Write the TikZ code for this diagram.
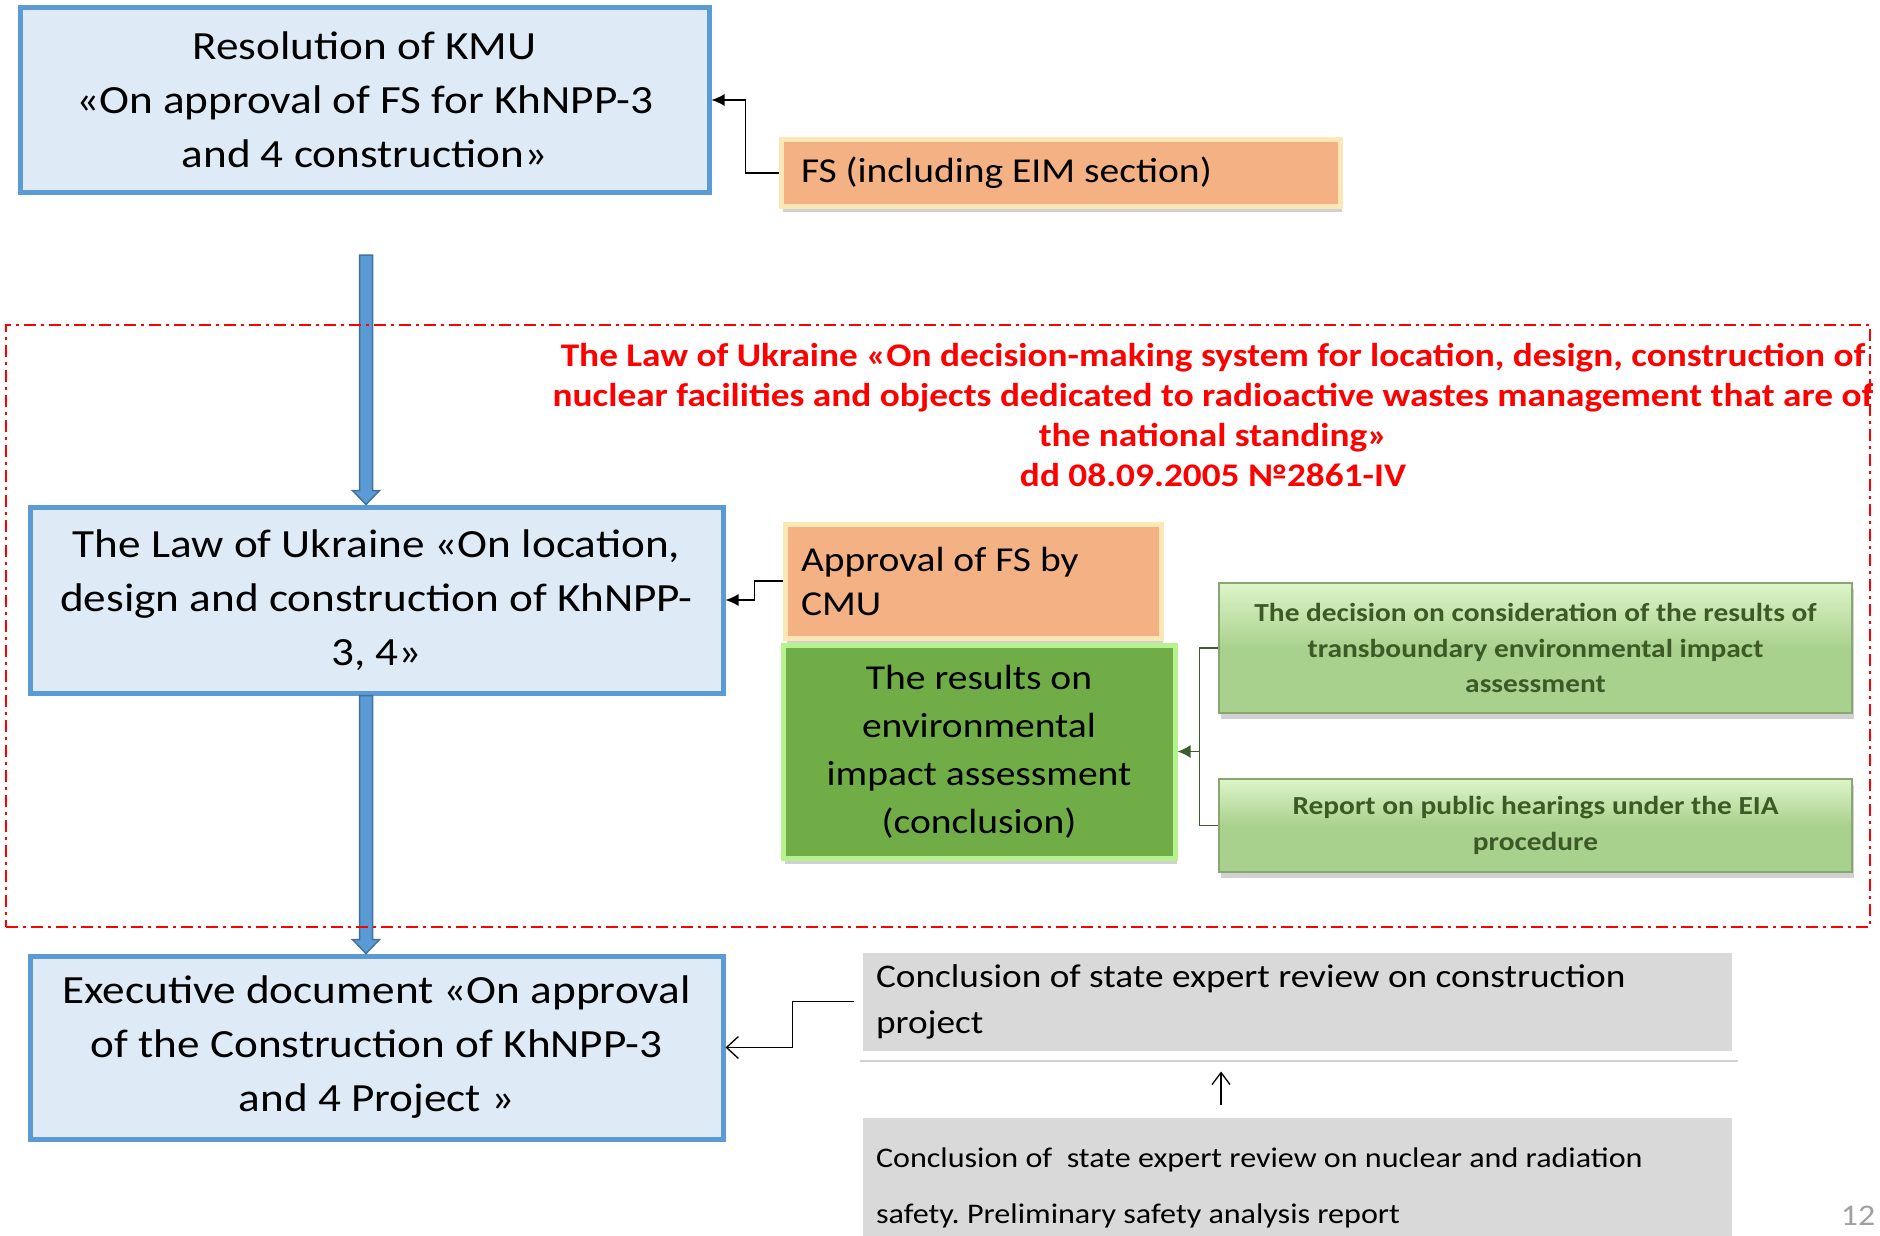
\documentclass[tikz,border=0pt]{standalone}
\usepackage{fontspec}
\setmainfont{Carlito}[FakeStretch=1.13]
\usetikzlibrary{calc,arrows.meta,shadows}
\frenchspacing
\definecolor{boxblue}{HTML}{DEEBF7}
\definecolor{edgeblue}{HTML}{5B9BD5}
\definecolor{darkblue}{HTML}{41719C}
\definecolor{orangefill}{HTML}{F4B183}
\definecolor{orangerim}{HTML}{FCE8B4}
\definecolor{greenfill}{HTML}{70AD47}
\definecolor{greenrim}{HTML}{B6F28E}
\definecolor{greentext}{HTML}{3B5A26}
\definecolor{greenline}{HTML}{3B5E2B}
\definecolor{lightgreen}{HTML}{A9D18E}
\definecolor{palegreen}{HTML}{DDF5C8}
\definecolor{grayfill}{HTML}{D9D9D9}
\definecolor{lawred}{HTML}{FF0000}
\definecolor{pagegray}{HTML}{A0A0A0}
\newcommand\blkarrow[2]{%
  \draw[bluearrow] ($(#1)+(-6.5,0)$) -- ($(#2)+(-6.5,-14)$) -- ($(#2)+(-13.5,-14)$) -- (#2)
    -- ($(#2)+(13.5,-14)$) -- ($(#2)+(6.5,-14)$) -- ($(#1)+(6.5,0)$) -- cycle;}
\begin{document}
\begin{tikzpicture}[x=1pt,y=-1pt,
  mainbox/.style={draw=edgeblue, line width=5pt, fill=boxblue, align=center, inner sep=0pt,
    font=\fontsize{40}{54}\selectfont},
  orangebox/.style={draw=orangerim, line width=5pt, fill=orangefill, align=flush left, inner ysep=0pt,
    drop shadow={shadow xshift=2pt, shadow yshift=-6pt, opacity=0.3, fill=black!60}},
  resbox/.style={draw=greenrim, line width=5pt, fill=greenfill, align=center, inner sep=0pt,
    font=\fontsize{35}{48}\selectfont,
    drop shadow={shadow xshift=2pt, shadow yshift=-6pt, opacity=0.3, fill=black!60}},
  bevelbox/.style={draw=lightgreen!80!black, line width=2.5pt, top color=palegreen, bottom color=lightgreen,
    middle color=lightgreen, align=center, inner sep=0pt, text=greentext,
    font=\fontsize{26}{35.5}\selectfont\bfseries,
    drop shadow={shadow xshift=2pt, shadow yshift=-6pt, opacity=0.3, fill=black!60}},
  graybox/.style={draw=white, line width=9pt, fill=grayfill, align=flush left, inner ysep=0pt,
    drop shadow={shadow xshift=2pt, shadow yshift=-7pt, opacity=0.3, fill=black!60}},
  bluearrow/.style={fill=edgeblue, draw=darkblue, line width=1.5pt},
  redframe/.style={draw=lawred, line width=2.5pt, dash pattern=on 12pt off 5pt on 3pt off 5pt, inner sep=0pt},
  lawtext/.style={text=lawred, align=center, font=\fontsize{33}{40}\selectfont\bfseries},
  conn/.style={draw=black, line width=1.3pt},
  gconn/.style={draw=greenline, line width=1.5pt},
  pagenum/.style={text=pagegray, font=\fontsize{30}{34}\selectfont}
]
\useasboundingbox (0,0) rectangle (1880,1236);
\clip (0,0) rectangle (1880,1236);

% main blue boxes
\node[mainbox, minimum width=689pt, minimum height=184pt] (b1) at (364.5,100)
  {Resolution of KMU\\«On approval of FS for KhNPP-3\\and 4 construction»};
\node[mainbox, minimum width=693pt, minimum height=186pt] (b2) at (376.5,600)
  {The Law of Ukraine «On location,\\design and construction of KhNPP-\\3, 4»};
\node[mainbox, minimum width=693pt, minimum height=183pt] (b3) at (376.5,1047.5)
  {Executive document «On approval\\of the Construction of KhNPP-3\\and 4 Project »};

% orange boxes
\node[orangebox, minimum height=66pt, text width=519pt, inner xsep=20pt,
  font=\fontsize{35}{44}\selectfont] (fs) at (1060.5,173) {FS (including EIM section)};
\node[orangebox, minimum height=114pt, text width=344pt, inner xsep=16pt,
  font=\fontsize{35}{44}\selectfont] (ap) at (973,581) {Approval of FS by\\CMU};

% green boxes
\node[resbox, minimum width=392pt, minimum height=213pt] (res) at (979,751.5)
  {The results on\\environmental\\impact assessment\\(conclusion)};
\node[bevelbox, minimum width=633pt, minimum height=130pt] (ga) at (1535.5,648)
  {The decision on consideration of the results of\\transboundary environmental impact\\assessment};
\node[bevelbox, minimum width=633pt, minimum height=93pt] (gb) at (1535.5,825.5)
  {Report on public hearings under the EIA\\procedure};

% gray boxes
\node[graybox, minimum height=107pt, text width=842pt, inner xsep=18pt,
  font=\fontsize{33}{46}\selectfont] (g1) at (1297,1001.5)
  {Conclusion of state expert review on construction\\project};
\node[graybox, minimum height=150pt, text width=842pt, inner xsep=18pt,
  font=\fontsize{28.4}{56}\selectfont] (g2) at (1297,1188)
  {Conclusion of \ state expert review on nuclear and radiation\\safety. Preliminary safety analysis report};

% blue block arrows
\coordinate (a1s) at (366,255);
\coordinate (a1e) at (a1s |- b2.north);
\coordinate (a2s) at (a1s |- b2.south);
\coordinate (a2e) at (a1s |- b3.north);
\blkarrow{a1s}{a1e}
\blkarrow{a2s}{a2e}

% red law frame and title
\node[redframe, minimum width=1864pt, minimum height=602pt] (frame) at (938,626) {};
\node[lawtext] (law) at (1213,415)
  {The Law of Ukraine «On decision-making system for location, design, construction of\\
   nuclear facilities and objects dedicated to radioactive wastes management that are of\\
   the national standing»\\dd 08.09.2005 №2861-IV};

% connectors
\draw[conn, -{Latex[length=13pt,width=12pt]}] (fs.west) -| ($(b1.east)+(34,0)$) -- (b1.east);
\draw[conn, -{Latex[length=13pt,width=12pt]}] (ap.west) -| ($(b2.east)+(29,0)$) -- (b2.east);
\draw[gconn] (ga.west) -| ($(res.east)+(22,0)$) |- (gb.west);
\draw[gconn, -{Latex[length=13pt,width=13pt]}] ($(res.east)+(22,0)$) -- (res.east);
\draw[conn, -{Straight Barb[length=12pt,width=22pt]}] (g1.west) -| ($(b3.east)+(67,0)$) -- (b3.east);
\coordinate (gx) at (1221,0);
\draw[conn, -{Straight Barb[length=12pt,width=18pt]}] ($(g2.north -| gx)+(0,-4)$) -- ($(g1.south -| gx)+(0,12)$);

\node[pagenum] (pg) at (1858,1216) {12};
\end{tikzpicture}
\end{document}
